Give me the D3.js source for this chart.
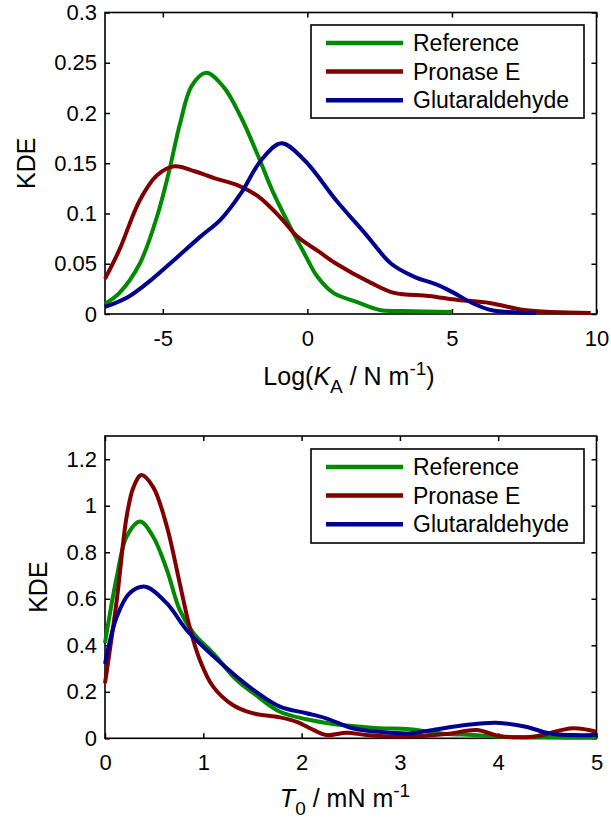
<!DOCTYPE html>
<html>
<head>
<meta charset="utf-8">
<script src="https://cdn.jsdelivr.net/npm/d3@7"></script>
<style>
  html, body { margin: 0; padding: 0; background: #fff; }
  svg { display: block; font-family: "Liberation Sans", Arial, sans-serif; }
</style>
</head>
<body>
<svg id="chart" width="611" height="828"></svg>
<script>
// ---------- data ----------
const seriesNames = ["Reference", "Pronase E", "Glutaraldehyde"];
const seriesColors = ["#008a00", "#800000", "#000090"];

// Top panel: Log(K_A / N m^-1)
const kaTicksX = [-5, 0, 5, 10];
const kaTicksY = [0, 0.05, 0.1, 0.15, 0.2, 0.25, 0.3];
const kaRefX = [-7, -6.5, -5.8, -5.2, -4.8, -4.4, -4.0, -3.5, -2.9, -2.3, -1.7, -1.2, -0.6, -0.1, 0.35, 0.9, 1.7, 2.5, 3.3, 5.0];
const kaRefY = [0.01, 0.021, 0.05, 0.097, 0.14, 0.19, 0.227, 0.240, 0.226, 0.196, 0.157, 0.122, 0.087, 0.060, 0.037, 0.021, 0.012, 0.004, 0.003, 0.002];
const kaProX = [-7, -6.5, -5.8, -5.2, -4.6, -3.9, -3.2, -2.4, -1.7, -0.9, -0.35, 0.4, 1.0, 2.2, 3.0, 4.2, 5.2, 6.3, 7.5, 9.8];
const kaProY = [0.035, 0.064, 0.113, 0.138, 0.147, 0.142, 0.135, 0.128, 0.117, 0.095, 0.077, 0.062, 0.050, 0.031, 0.021, 0.018, 0.014, 0.011, 0.004, 0.001];
const kaGluX = [-7, -6.2, -5.4, -4.6, -3.7, -3.0, -2.3, -1.6, -0.9, -0.1, 1.0, 2.0, 2.9, 3.7, 4.5, 5.0, 5.7, 6.35, 7.9];
const kaGluY = [0.007, 0.017, 0.034, 0.054, 0.077, 0.094, 0.120, 0.153, 0.170, 0.153, 0.113, 0.080, 0.050, 0.037, 0.029, 0.022, 0.011, 0.004, 0.001];

// Bottom panel: T_0 / mN m^-1
const t0TicksX = [0, 1, 2, 3, 4, 5];
const t0TicksY = [0, 0.2, 0.4, 0.6, 0.8, 1, 1.2];
const t0RefX = [0, 0.12, 0.22, 0.356, 0.49, 0.63, 0.76, 0.90, 1.1, 1.34, 1.51, 1.78, 2.05, 2.29, 2.59, 2.79, 3.1, 3.44, 3.74, 4.01, 4.5, 5.0];
const t0RefY = [0.41, 0.695, 0.867, 0.932, 0.867, 0.724, 0.552, 0.452, 0.366, 0.25, 0.194, 0.114, 0.082, 0.064, 0.05, 0.043, 0.039, 0.02, 0.014, 0.007, 0.003, 0.002];
const t0ProX = [0, 0.12, 0.22, 0.29, 0.37, 0.49, 0.63, 0.76, 0.86, 0.965, 1.1, 1.3, 1.5, 1.78, 1.95, 2.12, 2.25, 2.46, 2.66, 3.0, 3.5, 3.78, 4.01, 4.35, 4.76, 5.0];
const t0ProY = [0.237, 0.595, 0.953, 1.08, 1.132, 1.08, 0.91, 0.667, 0.48, 0.337, 0.222, 0.143, 0.108, 0.090, 0.071, 0.036, 0.014, 0.024, 0.014, 0.007, 0.02, 0.036, 0.01, 0.007, 0.043, 0.028];
const t0GluX = [0, 0.12, 0.25, 0.41, 0.63, 0.83, 1.07, 1.34, 1.51, 1.78, 2.05, 2.25, 2.52, 2.79, 3.1, 3.34, 3.67, 3.98, 4.28, 4.52, 4.76, 5.0];
const t0GluY = [0.32, 0.523, 0.624, 0.652, 0.58, 0.466, 0.366, 0.265, 0.208, 0.136, 0.108, 0.086, 0.043, 0.028, 0.021, 0.036, 0.057, 0.067, 0.05, 0.021, 0.014, 0.014];

// ---------- drawing ----------
const svg = d3.select("#chart");
const zip = (xs, ys) => xs.map((x, i) => [x, ys[i]]);

function panel(cfg) {
  const { left, right, top, bottom } = cfg;
  const x = d3.scaleLinear().domain(cfg.xDomain).range([left, right]);
  const y = d3.scaleLinear().domain(cfg.yDomain).range([bottom, top]);
  const g = svg.append("g");
  const tickFont = 22;

  const ax = g.append("g").attr("transform", `translate(0,${bottom})`)
    .call(d3.axisBottom(x).tickValues(cfg.xTicks).tickSize(-5).tickPadding(16)
      .tickFormat(d => String(d)));
  const ay = g.append("g").attr("transform", `translate(${left},0)`)
    .call(d3.axisLeft(y).tickValues(cfg.yTicks).tickSize(-5).tickPadding(8)
      .tickFormat(d => String(d)));
  const at = g.append("g").attr("transform", `translate(0,${top})`)
    .call(d3.axisTop(x).tickValues(cfg.xTicks).tickSize(-5).tickFormat(""));
  const ar = g.append("g").attr("transform", `translate(${right},0)`)
    .call(d3.axisRight(y).tickValues(cfg.yTicks).tickSize(-5).tickFormat(""));
  [ax, ay, at, ar].forEach(a => {
    a.select(".domain").remove();
    a.selectAll(".tick line").attr("stroke", "#000").attr("stroke-width", 1.5);
    a.selectAll(".tick text").attr("font-size", tickFont).attr("fill", "#000")
      .attr("font-family", "Liberation Sans, Arial, sans-serif");
  });

  g.append("rect").attr("x", left).attr("y", top)
    .attr("width", right - left).attr("height", bottom - top)
    .attr("fill", "none").attr("stroke", "#000").attr("stroke-width", 1.6);

  const clipId = "clip" + cfg.id;
  svg.append("clipPath").attr("id", clipId).append("rect")
    .attr("x", left - 2).attr("y", top).attr("width", right - left + 4).attr("height", bottom - top + 2);

  const line = d3.line().x(d => x(d[0])).y(d => y(d[1])).curve(d3.curveCatmullRom.alpha(0.5));
  const lg = g.append("g").attr("clip-path", `url(#${clipId})`);
  cfg.series.forEach((s, i) => {
    lg.append("path").datum(s).attr("d", line)
      .attr("fill", "none").attr("stroke", seriesColors[i]).attr("stroke-width", 4)
      .attr("stroke-linejoin", "round").attr("stroke-linecap", "butt");
  });

  // legend
  const L = cfg.legend;
  g.append("rect").attr("x", L.x).attr("y", L.y).attr("width", L.w).attr("height", L.h)
    .attr("fill", "#fff").attr("stroke", "#000").attr("stroke-width", 1.6);
  seriesNames.forEach((n, i) => {
    const yy = L.y + 18 + i * 28.6;
    g.append("line").attr("x1", L.x + 15).attr("x2", L.x + 92).attr("y1", yy).attr("y2", yy)
      .attr("stroke", seriesColors[i]).attr("stroke-width", 4.5);
    g.append("text").attr("x", L.x + 102).attr("y", yy).attr("dy", "0.36em")
      .attr("font-size", 23).attr("fill", "#000").text(n);
  });

  // y label
  g.append("text").attr("transform", `translate(${cfg.yLabelX},${(top + bottom) / 2}) rotate(-90)`)
    .attr("text-anchor", "middle").attr("dy", "0.36em").attr("font-size", 25).attr("fill", "#000").text("KDE");

  // x label
  const xl = g.append("text").attr("x", cfg.xLabelX).attr("y", cfg.xLabelY)
    .attr("text-anchor", "middle").attr("font-size", 25).attr("fill", "#000");
  cfg.xLabel(xl);
}

panel({
  id: "top", left: 105, right: 596.5, top: 12.5, bottom: 314,
  xDomain: [-7, 10], yDomain: [0, 0.3], xTicks: kaTicksX, yTicks: kaTicksY,
  series: [zip(kaRefX, kaRefY), zip(kaProX, kaProY), zip(kaGluX, kaGluY)],
  legend: { x: 311, y: 25, w: 273, h: 93 },
  yLabelX: 26, xLabelX: 349, xLabelY: 385,
  xLabel: t => {
    t.append("tspan").text("Log(");
    t.append("tspan").attr("font-style", "italic").text("K");
    t.append("tspan").attr("font-size", 19).attr("dy", 8).text("A");
    t.append("tspan").attr("dy", -8).text(" / N m");
    t.append("tspan").attr("font-size", 19).attr("dy", -10).text("-1");
    t.append("tspan").attr("dy", 10).text(")");
  }
});

panel({
  id: "bot", left: 105, right: 596.5, top: 436, bottom: 738.3,
  xDomain: [0, 5], yDomain: [0, 1.3], xTicks: t0TicksX, yTicks: t0TicksY,
  series: [zip(t0RefX, t0RefY), zip(t0ProX, t0ProY), zip(t0GluX, t0GluY)],
  legend: { x: 311, y: 449, w: 273, h: 94 },
  yLabelX: 38, xLabelX: 345, xLabelY: 807,
  xLabel: t => {
    t.append("tspan").attr("font-style", "italic").text("T");
    t.append("tspan").attr("font-size", 19).attr("dy", 8).text("0");
    t.append("tspan").attr("dy", -8).text(" / mN m");
    t.append("tspan").attr("font-size", 19).attr("dy", -10).text("-1");
    t.append("tspan").attr("dy", 10).text("");
  }
});
</script>
</body>
</html>
